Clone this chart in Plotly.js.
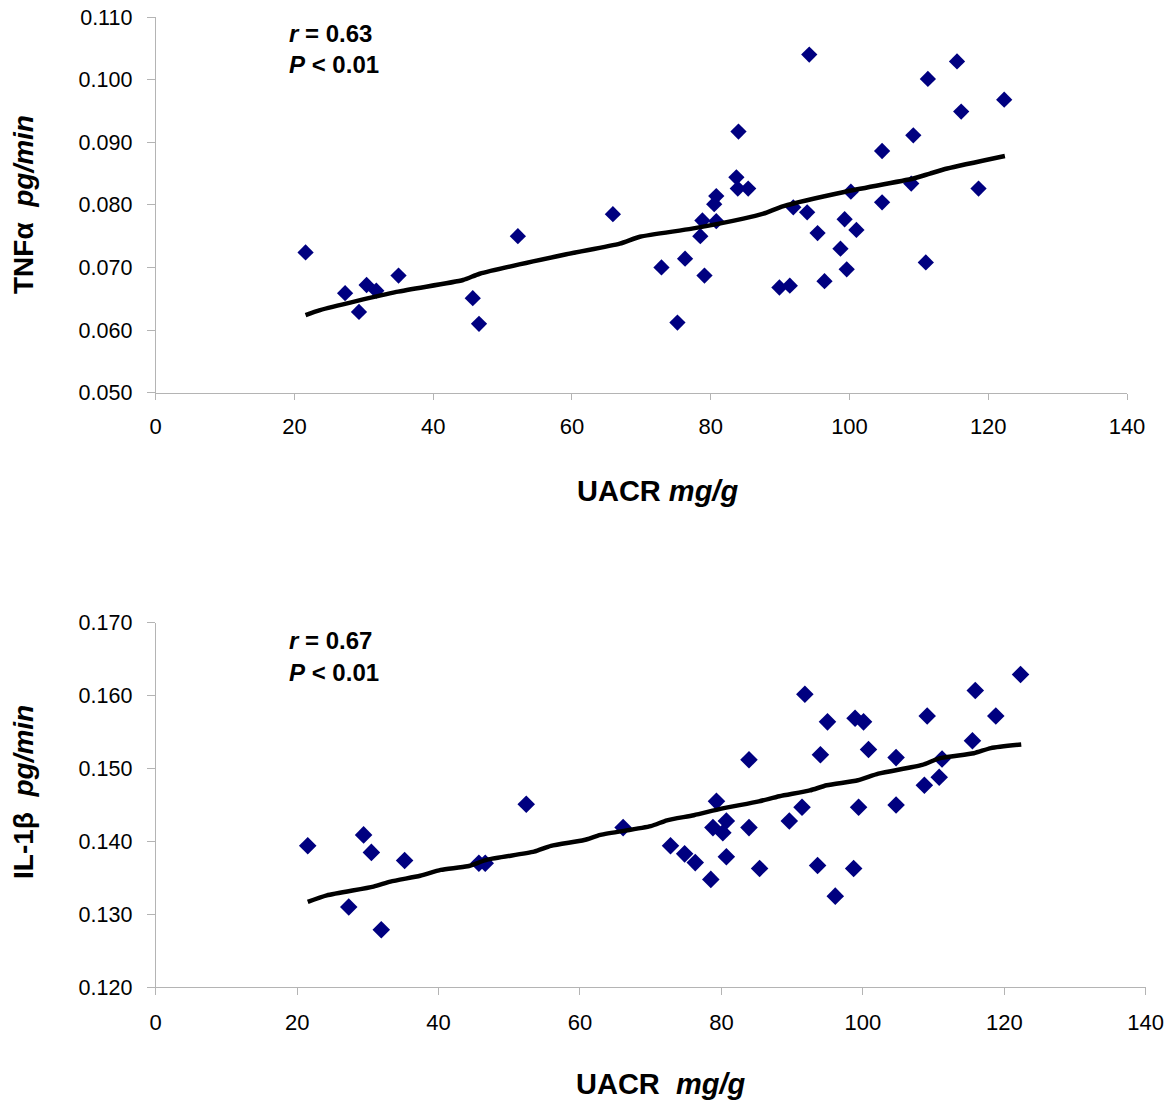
<!DOCTYPE html>
<html>
<head>
<meta charset="utf-8">
<script src="https://cdn.plot.ly/plotly-3.0.1.min.js"></script>
<style>html,body{margin:0;padding:0;background:#fff;}#chart{width:1174px;height:1103px;}</style>
</head>
<body>
<div id="chart"></div>
<script>
// ---- Data: top panel (TNFα vs UACR) ----
var tnfX = [21.6, 27.3, 29.3, 30.4, 31.8, 35.0, 45.7, 46.6, 52.2, 65.9, 72.9, 75.2, 76.3, 79.1, 78.5, 78.8, 80.8, 80.5, 80.8, 83.7, 83.9, 85.4, 84.0, 89.9, 91.4, 91.9, 93.9, 94.2, 95.4, 96.4, 98.7, 99.3, 99.6, 100.2, 101.0, 104.7, 104.7, 108.9, 109.2, 111.0, 111.3, 115.5, 116.1, 118.6, 122.3];
var tnfY = [0.0724, 0.0659, 0.0629, 0.0672, 0.0663, 0.0687, 0.0651, 0.0610, 0.0750, 0.0785, 0.0700, 0.0612, 0.0714, 0.0687, 0.0750, 0.0775, 0.0774, 0.0801, 0.0814, 0.0844, 0.0826, 0.0826, 0.0917, 0.0668, 0.0671, 0.0796, 0.0788, 0.1040, 0.0755, 0.0678, 0.0730, 0.0777, 0.0697, 0.0821, 0.0760, 0.0886, 0.0804, 0.0834, 0.0911, 0.0708, 0.1001, 0.1029, 0.0949, 0.0826, 0.0968];
var tnfTrendX = [21.6, 23.7, 34.7, 44.3, 46.7, 59.2, 66.9, 69.8, 77.3, 84.7, 87.6, 90.5, 99.4, 109.2, 111.6, 114.1, 122.4];
var tnfTrendY = [0.0624, 0.0632, 0.0661, 0.0680, 0.0690, 0.0721, 0.0738, 0.0749, 0.0762, 0.0778, 0.0786, 0.0798, 0.0821, 0.0842, 0.0850, 0.0858, 0.0878];

// ---- Data: bottom panel (IL-1β vs UACR) ----
var ilX = [21.5, 27.3, 29.4, 30.5, 31.9, 35.2, 45.7, 46.6, 52.4, 66.1, 72.8, 74.8, 76.3, 78.5, 79.3, 78.8, 80.2, 80.7, 80.7, 83.9, 83.9, 85.4, 89.6, 91.4, 91.8, 93.6, 94.0, 95.0, 96.1, 98.7, 98.9, 99.4, 100.1, 100.8, 104.7, 104.7, 108.7, 109.1, 110.8, 111.2, 115.5, 115.9, 118.8, 122.3];
var ilY = [0.1394, 0.1310, 0.1409, 0.1385, 0.1279, 0.1374, 0.1370, 0.1370, 0.1451, 0.1419, 0.1394, 0.1383, 0.1371, 0.1348, 0.1455, 0.1419, 0.1412, 0.1428, 0.1379, 0.1419, 0.1512, 0.1363, 0.1428, 0.1447, 0.1602, 0.1367, 0.1519, 0.1564, 0.1325, 0.1363, 0.1569, 0.1447, 0.1564, 0.1526, 0.1450, 0.1515, 0.1477, 0.1572, 0.1488, 0.1513, 0.1538, 0.1607, 0.1572, 0.1629];
var ilTrendX = [21.5, 24.2, 30.8, 33.2, 37.4, 40.3, 44.1, 46.9, 53.5, 55.9, 60.6, 62.9, 70.0, 72.3, 76.1, 80.0, 85.3, 88.2, 92.5, 94.9, 99.3, 102.2, 108.4, 110.8, 115.7, 118.1, 122.4];
var ilTrendY = [0.1317, 0.1326, 0.1338, 0.1345, 0.1353, 0.1361, 0.1366, 0.1375, 0.1386, 0.1394, 0.1402, 0.1409, 0.1421, 0.1429, 0.1436, 0.1445, 0.1455, 0.1462, 0.1470, 0.1477, 0.1484, 0.1493, 0.1505, 0.1514, 0.1521, 0.1528, 0.1533];

// ---- Text ----
var xTitleTop = "<b>UACR <i>mg/g</i></b>";
var xTitleBottom = "<b>UACR\u00a0\u00a0<i>mg/g</i></b>";
var yTitleTop = "<b>TNF\u03b1\u00a0\u00a0<i>pg/min</i></b>";
var yTitleBottom = "<b>IL-1\u03b2\u00a0\u00a0<i>pg/min</i></b>";
var statTop = ["<b><i>r</i> = 0.63</b>", "<b><i>P</i> &lt; 0.01</b>"];
var statBottom = ["<b><i>r</i> = 0.67</b>", "<b><i>P</i> &lt; 0.01</b>"];

var W = 1174, H = 1103;
function px(v){ return v / W; }
function py(v){ return 1 - v / H; }

var FONT = "Liberation Sans, Arial, Helvetica, sans-serif";
var NAVY = "#000080";
var AXC = "#b4b4b4";

var traces = [
  {x: tnfX, y: tnfY, type: "scatter", mode: "markers", xaxis: "x", yaxis: "y",
   marker: {symbol: "diamond", size: 12.5, color: NAVY, line: {width: 0}}, showlegend: false},
  {x: tnfTrendX, y: tnfTrendY, type: "scatter", mode: "lines", xaxis: "x", yaxis: "y",
   line: {color: "#000", width: 4.5, shape: "spline", smoothing: 0.6}, showlegend: false},
  {x: ilX, y: ilY, type: "scatter", mode: "markers", xaxis: "x2", yaxis: "y2",
   marker: {symbol: "diamond", size: 13.5, color: NAVY, line: {width: 0}}, showlegend: false},
  {x: ilTrendX, y: ilTrendY, type: "scatter", mode: "lines", xaxis: "x2", yaxis: "y2",
   line: {color: "#000", width: 4.5, shape: "spline", smoothing: 0.6}, showlegend: false}
];

function xAxis(domain, anchor, ticklen){
  return {domain: domain, anchor: anchor, range: [0, 140], dtick: 20, tick0: 0,
    showgrid: false, zeroline: false, showline: true, linecolor: AXC, linewidth: 1,
    ticks: "outside", ticklen: ticklen, tickcolor: AXC, tickwidth: 1,
    tickfont: {family: FONT, size: 22, color: "#000"}, ticklabelstandoff: 8, fixedrange: true};
}
function yAxis(domain, anchor, range, ticklen){
  return {domain: domain, anchor: anchor, range: range, dtick: 0.01, tick0: range[0],
    tickformat: ".3f", showgrid: false, zeroline: false, showline: true, linecolor: AXC, linewidth: 1,
    ticks: "outside", ticklen: ticklen, tickcolor: AXC, tickwidth: 1,
    tickfont: {family: FONT, size: 21.5, color: "#000"}, ticklabelstandoff: 10, fixedrange: true};
}

var ann = [];
function addText(text, x, y, size, opts){
  var a = {text: text, xref: "paper", yref: "paper", x: px(x), y: py(y), showarrow: false,
    xanchor: "center", yanchor: "middle", font: {family: FONT, size: size, color: "#000"}};
  for (var k in (opts||{})) a[k] = opts[k];
  ann.push(a);
}
addText(xTitleTop, 657, 491, 29);
addText(xTitleBottom, 660, 1084, 29);
addText(yTitleTop, 23, 205, 28, {textangle: -90});
addText(yTitleBottom, 23, 792, 28, {textangle: -90});
addText(statTop[0], 287, 33, 24, {xanchor: "left"});
addText(statTop[1], 287, 64, 24, {xanchor: "left"});
addText(statBottom[0], 287, 640.5, 24, {xanchor: "left"});
addText(statBottom[1], 287, 672, 24, {xanchor: "left"});

var layout = {
  width: W, height: H, margin: {l: 0, r: 0, t: 0, b: 0},
  paper_bgcolor: "#fff", plot_bgcolor: "#fff", showlegend: false,
  font: {family: FONT, color: "#000"},
  xaxis: xAxis([155.7 / W, 1127 / W], "y", 6),
  yaxis: yAxis([1 - 392.7 / H, 1 - 17 / H], "x", [0.050, 0.110], 8),
  xaxis2: xAxis([155.7 / W, 1145.7 / W], "y2", 7),
  yaxis2: yAxis([1 - 987.3 / H, 1 - 622.7 / H], "x2", [0.120, 0.170], 8),
  annotations: ann
};

Plotly.newPlot("chart", traces, layout, {staticPlot: true, displayModeBar: false});
</script>
</body>
</html>
